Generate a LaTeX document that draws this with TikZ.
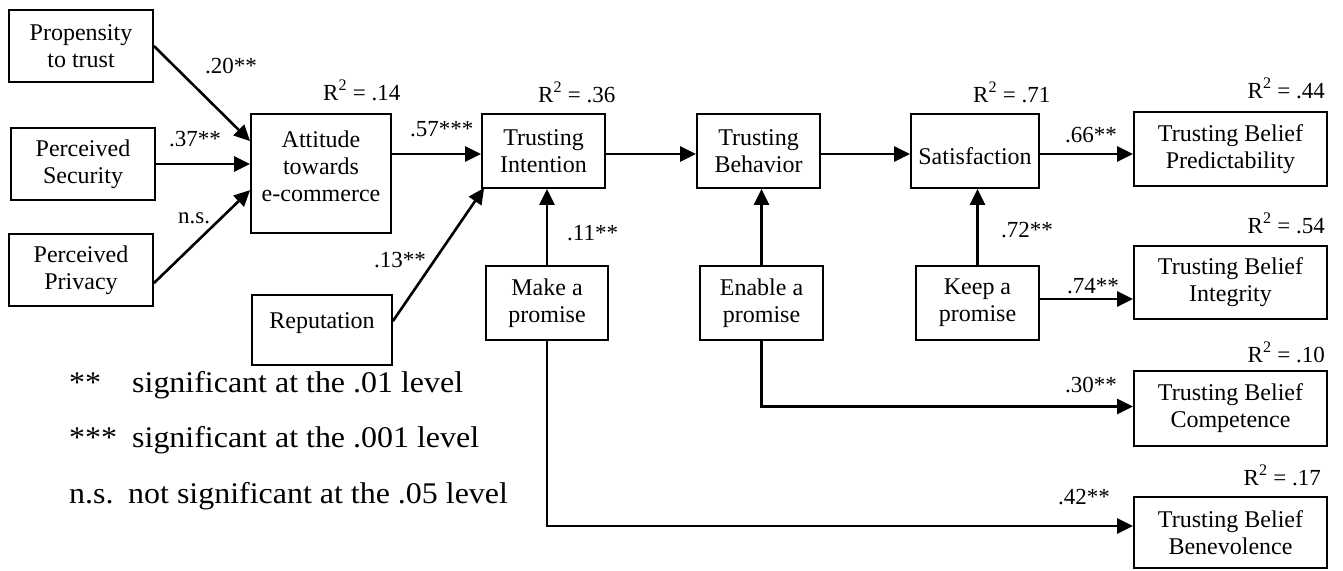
\documentclass[tikz,border=0pt]{standalone}
\usepackage{fontspec}
\setmainfont{Liberation Serif}
\usetikzlibrary{arrows.meta,calc}
\begin{document}
\begin{tikzpicture}[x=1pt,y=-1pt,
  box/.style={draw, line width=1.8pt, align=center, inner sep=0pt, font=\fontsize{24}{27}\selectfont},
  arr/.style={line width=2.6pt, -{Triangle[length=16pt,width=15pt]}},
  lbl/.style={inner sep=0pt, anchor=base west, font=\fontsize{23}{27}\selectfont},
  rlbl/.style={lbl, anchor=base east},
  leg/.style={inner sep=0pt, anchor=base west, font=\fontsize{30}{36}\selectfont}]
\useasboundingbox (0,0) rectangle (1343,570);

% boxes
\node[box, minimum width=144pt, minimum height=72pt] (prop) at (81,46) {Propensity\\to trust};
\node[box, minimum width=144pt, minimum height=72pt] (sec) at (83,164) {Perceived\\Security};
\node[box, minimum width=144pt, minimum height=72pt] (priv) at (81,270) {Perceived\\Privacy};
\node[box, minimum width=140pt, minimum height=119pt] (att) at (321,173.5) {Attitude\\towards\\e-commerce\rule[-14pt]{0pt}{0pt}};
\node[box, minimum width=140pt, minimum height=70pt] (rep) at (322,330) {Reputation\rule[-18pt]{0pt}{0pt}};
\node[box, minimum width=123pt, minimum height=74pt] (int) at (543.5,151) {Trusting\\Intention};
\node[box, minimum width=123pt, minimum height=74pt] (beh) at (758.5,151) {Trusting\\Behavior};
\node[box, minimum width=122pt, minimum height=74pt] (make) at (547,303) {Make a\\promise};
\node[box, minimum width=123pt, minimum height=74pt] (enab) at (761.5,303) {Enable a\\promise};
\node[box, minimum width=128pt, minimum height=74pt] (sat) at (975,151) {\rule{0pt}{28pt}Satisfaction};
\node[box, minimum width=123pt, minimum height=74pt] (keep) at (977.5,303) {Keep a\\promise};
\node[box, minimum width=193pt, minimum height=74pt] (pred) at (1230.5,149) {Trusting Belief\\Predictability};
\node[box, minimum width=193pt, minimum height=73pt] (integ) at (1230.5,282.5) {Trusting Belief\\Integrity};
\node[box, minimum width=193pt, minimum height=75pt] (comp) at (1230.5,408.5) {Trusting Belief\\Competence};
\node[box, minimum width=193pt, minimum height=71pt] (bene) at (1230.5,532.5) {Trusting Belief\\Benevolence};

% connectors
\draw[arr] (prop.east) -- ($(att.north west)+(0,28)$);
\draw[arr] (sec.east) -- (sec.east -| att.west);
\draw[arr] ($(priv.north east)+(0,50)$) -- ($(att.north west)+(0,77)$);
\coordinate (a1) at ($(int.west)+(0,3)$);
\draw[arr] (a1 -| att.east) -- (a1);
\draw[arr] ($(rep.north east)+(0,27)$) -- ($(int.south west)+(3,-1)$);
\draw[arr] (make.north) -- (make.north |- int.south);
\coordinate (b1) at ($(beh.west)+(0,3)$);
\draw[arr] (b1 -| int.east) -- (b1);
\draw[arr] (enab.north) -- (enab.north |- beh.south);
\coordinate (s1) at ($(sat.west)+(0,3)$);
\draw[arr] (s1 -| beh.east) -- (s1);
\draw[arr] (keep.north) -- (keep.north |- sat.south);
\coordinate (p1) at ($(sat.east)+(0,3)$);
\draw[arr] (p1) -- (p1 -| pred.west);
\coordinate (k1) at ($(keep.east)+(0,-4)$);
\draw[arr] (k1) -- (k1 -| integ.west);
\draw[arr] (enab.south) |- ($(comp.west)+(0,-2)$);
\draw[arr] (make.south) |- ($(bene.west)+(0,-6.5)$);

% R^2 labels
\node[lbl] (r14) at (323,100) {R\textsuperscript{2} = .14};
\node[lbl] (r36) at (538,102) {R\textsuperscript{2} = .36};
\node[lbl] (r71) at (973,102) {R\textsuperscript{2} = .71};
\node[rlbl] (r44) at (1325,98) {R\textsuperscript{2} = .44};
\node[rlbl] (r54) at (1325,233) {R\textsuperscript{2} = .54};
\node[rlbl] (r10) at (1325,362) {R\textsuperscript{2} = .10};
\node[rlbl] (r17) at (1321,485) {R\textsuperscript{2} = .17};

% path coefficients
\node[lbl] (c20) at (205,73) {.20**};
\node[lbl] (c37) at (169,146) {.37**};
\node[lbl] (cns) at (178,223) {n.s.};
\node[lbl] (c57) at (410,136) {.57***};
\node[lbl] (c13) at (374,267) {.13**};
\node[lbl] (c11) at (567,240) {.11**};
\node[lbl] (c66) at (1065,142) {.66**};
\node[lbl] (c72) at (1001,237) {.72**};
\node[lbl] (c74) at (1067,293) {.74**};
\node[lbl] (c30) at (1065,392) {.30**};
\node[lbl] (c42) at (1058,504) {.42**};

% legend
\node[leg] (l1a) at (69,392) {\scalebox{1.065}[1]{**}};
\node[leg] (l1b) at (132,392) {\scalebox{1.065}[1]{significant at the .01 level}};
\node[leg] (l2a) at (69,447) {\scalebox{1.065}[1]{***}};
\node[leg] (l2b) at (132,447) {\scalebox{1.065}[1]{significant at the .001 level}};
\node[leg] (l3a) at (69,503) {\scalebox{1.065}[1]{n.s.}};
\node[leg] (l3b) at (128,503) {\scalebox{1.065}[1]{not significant at the .05 level}};
\end{tikzpicture}
\end{document}
